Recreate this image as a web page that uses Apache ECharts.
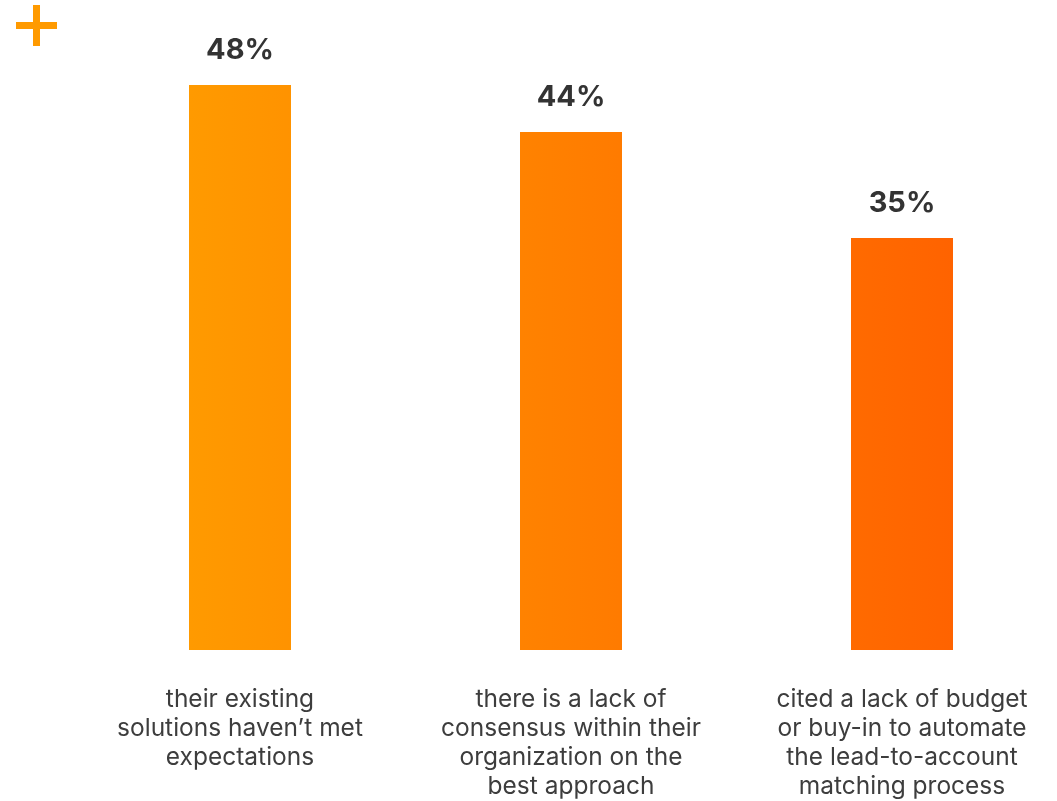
<!DOCTYPE html>
<html>
<head>
<meta charset="utf-8">
<script src="https://cdn.jsdelivr.net/npm/echarts@6/dist/echarts.min.js"></script>
<style>
  html, body { margin: 0; padding: 0; background: #ffffff; overflow: hidden; }
  #chart { width: 1068px; height: 801px; }
</style>
</head>
<body>
<div id="chart"></div>
<script>
// Survey answers, one bar per reason
const categories = [
  'their existing\nsolutions haven\u2019t met\nexpectations',
  'there is a lack of\nconsensus within their\norganization on the\nbest approach',
  'cited a lack of budget\nor buy-in to automate\nthe lead-to-account\nmatching process'
];
const percentages = [48, 44, 35];

const chart = echarts.init(document.getElementById('chart'), null, { renderer: 'canvas' });

// Orange gradient running across all bars, left to right
const barGradient = {
  type: 'linear', x: 189, y: 0, x2: 953, y2: 0, global: true,
  colorStops: [
    { offset: 0, color: '#ff9a00' },
    { offset: 1, color: '#ff6300' }
  ]
};

chart.setOption({
  backgroundColor: '#ffffff',
  animation: false,
  grid: { left: 74.5, right: 0.5, top: 61.5, bottom: 149 },
  xAxis: {
    type: 'category',
    data: categories,
    axisLine: { show: false },
    axisTick: { show: false },
    axisLabel: {
      interval: 0,
      margin: 35,
      color: '#3d3d3d',
      fontFamily: 'Inter, "Open Sans", sans-serif',
      fontSize: 24.5,
      lineHeight: 29
    }
  },
  yAxis: {
    type: 'value',
    min: 0,
    max: 50,
    show: false,
    splitLine: { show: false }
  },
  series: [{
    type: 'bar',
    data: percentages,
    barWidth: 102,
    itemStyle: { color: barGradient },
    label: {
      show: true,
      position: 'top',
      distance: 20,
      formatter: '{c}%',
      color: '#333333',
      fontFamily: 'Inter, "Open Sans", sans-serif',
      fontWeight: 'bold',
      fontSize: 29
    }
  }],
  graphic: [
    { type: 'rect', shape: { x: 16, y: 22, width: 41, height: 7 }, style: { fill: '#ff9a00' } },
    { type: 'rect', shape: { x: 33, y: 5, width: 7, height: 41 }, style: { fill: '#ff9a00' } }
  ]
});
</script>
</body>
</html>
